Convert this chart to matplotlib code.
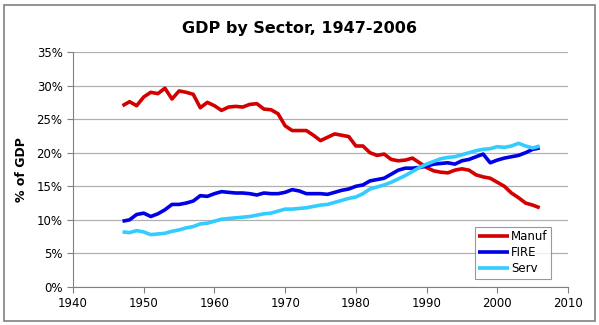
import matplotlib
matplotlib.use("Agg")
import matplotlib.pyplot as plt
from matplotlib.patches import Rectangle
from matplotlib.ticker import FuncFormatter

years = list(range(1947, 2007))
manuf = [27.0, 27.6, 27.0, 28.3, 29.0, 28.8, 29.6, 28.0, 29.2, 29.0,
         28.7, 26.7, 27.5, 27.0, 26.3, 26.8, 26.9, 26.8, 27.2, 27.3,
         26.5, 26.4, 25.8, 24.0, 23.3, 23.3, 23.3, 22.6, 21.8, 22.3,
         22.8, 22.6, 22.4, 21.0, 21.0, 20.0, 19.6, 19.8, 19.0, 18.8,
         18.9, 19.2, 18.5, 17.8, 17.3, 17.1, 17.0, 17.4, 17.6, 17.4,
         16.7, 16.4, 16.2, 15.6, 15.0, 14.0, 13.3, 12.5, 12.2, 11.8]
fire = [9.8, 10.0, 10.8, 11.0, 10.5, 10.9, 11.5, 12.3, 12.3, 12.5,
        12.8, 13.6, 13.5, 13.9, 14.2, 14.1, 14.0, 14.0, 13.9, 13.7,
        14.0, 13.9, 13.9, 14.1, 14.5, 14.3, 13.9, 13.9, 13.9, 13.8,
        14.1, 14.4, 14.6, 15.0, 15.2, 15.8, 16.0, 16.2, 16.8, 17.4,
        17.7, 17.7, 17.8, 18.0, 18.3, 18.4, 18.5, 18.3, 18.8, 19.0,
        19.4, 19.8, 18.5, 18.9, 19.2, 19.4, 19.6, 20.0, 20.5, 20.7]
serv = [8.2, 8.1, 8.4, 8.2, 7.8, 7.9, 8.0, 8.3, 8.5, 8.8,
        9.0, 9.4, 9.5, 9.8, 10.1, 10.2, 10.3, 10.4, 10.5, 10.7,
        10.9, 11.0, 11.3, 11.6, 11.6, 11.7, 11.8, 12.0, 12.2, 12.3,
        12.6, 12.9, 13.2, 13.4, 13.9, 14.6, 14.9, 15.2, 15.6, 16.1,
        16.6, 17.2, 17.8, 18.3, 18.7, 19.1, 19.3, 19.4, 19.7, 20.0,
        20.3, 20.5, 20.6, 20.9, 20.8, 21.0, 21.4, 21.0, 20.7, 21.0]
series_names = ["Manuf", "FIRE", "Serv"]
xticks = [1940, 1950, 1960, 1970, 1980, 1990, 2000, 2010]
yticks = [0, 5, 10, 15, 20, 25, 30, 35]

plt.rcParams['font.family'] = ['DejaVu Sans']
fig = plt.figure(figsize=(5.99, 3.25), dpi=100)
fig.patches.append(Rectangle((4/599, 4/325), 591/599, 316/325, transform=fig.transFigure,
                             fill=False, edgecolor='#808080', linewidth=1.2))
ax = fig.add_axes([73/599, 1-287/325, 495/599, 235/325])

colors = ['#D40000', '#0000E6', '#33CCFF']
for vals, name, c in zip([manuf, fire, serv], series_names, colors):
    ax.plot(years, vals, color=c, linewidth=2.6, label=name, solid_capstyle='butt')

ax.set_xlim(1940, 2010)
ax.set_ylim(0, 35)
ax.set_xticks(xticks)
ax.set_yticks(yticks)
ax.yaxis.set_major_formatter(FuncFormatter(lambda v, p: f"{int(v)}%"))
ax.grid(axis='y', color='#B0B0B0', linewidth=0.9)
ax.set_axisbelow(True)
for s in ['top', 'right']:
    ax.spines[s].set_visible(False)
for s in ['left', 'bottom']:
    ax.spines[s].set_color('#808080')
ax.tick_params(axis='both', colors='#808080', labelcolor='black', labelsize=8.5, length=4)
ax.set_ylabel('% of GDP', fontsize=9, fontweight='bold', labelpad=6)
fig.text(0.5, 1-28/325, 'GDP by Sector, 1947-2006', ha='center', va='center',
         fontsize=11.5, fontweight='bold')
leg = ax.legend(loc='lower right', bbox_to_anchor=(0.966, 0.035), fontsize=8.5, frameon=True,
                fancybox=False, edgecolor='#808080', handlelength=2.6, handletextpad=0.2,
                borderpad=0.3, labelspacing=0.25, borderaxespad=0)
leg.get_frame().set_linewidth(0.8)
fig.savefig('out.png', dpi=100)
